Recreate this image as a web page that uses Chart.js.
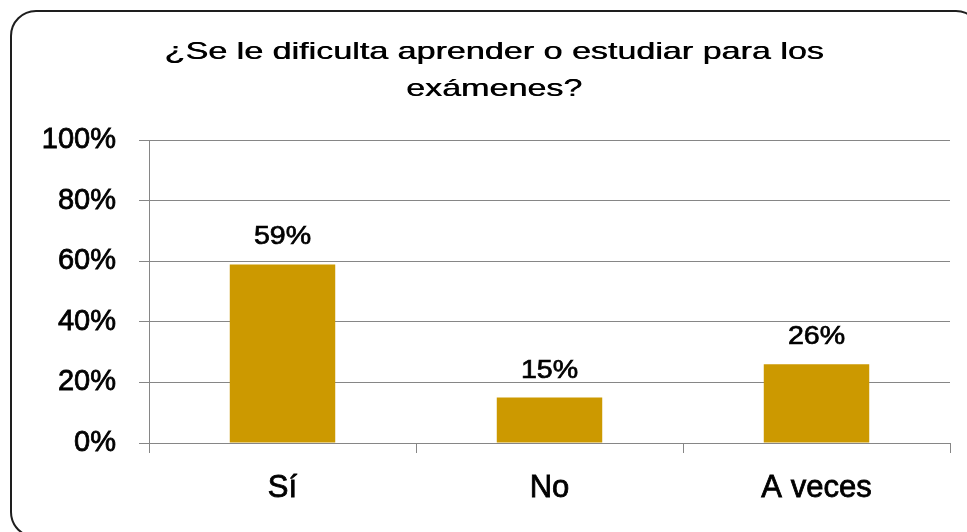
<!DOCTYPE html>
<html><head><meta charset="utf-8">
<script src="https://cdn.jsdelivr.net/npm/chart.js@4"></script>
<style>
html,body{margin:0;padding:0;background:#fff;overflow:hidden}
#wrap{position:relative;width:967px;height:532px;overflow:hidden;background:#fff}
#frame{position:absolute;left:10px;top:10px;width:972px;height:528px;border:2.5px solid #1e1e1e;border-radius:26px;box-sizing:border-box;pointer-events:none}
canvas{position:absolute;left:0;top:0}
</style></head>
<body><div id="wrap"><canvas id="c" width="967" height="532"></canvas><div id="frame"></div></div>
<script>
const titleLines = ['¿Se le dificulta aprender o estudiar para los', 'exámenes?'];
const categories = ['Sí', 'No', 'A veces'];
const values = [59, 15, 26];
const yTicks = [0, 20, 40, 60, 80, 100];

const FONT = '"Liberation Sans", Arial, sans-serif';
const GRID = '#868686';

const stretchTitle = {
  id: 'stretchTitle',
  beforeDraw(chart) {
    const tb = chart.titleBlock;
    if (!tb || tb._wrapped) return;
    const orig = tb.draw;
    tb.draw = function (area) {
      const ctx = this.ctx;
      const cx = (this.left + this.right) / 2;
      ctx.save();
      ctx.translate(cx, 0);
      ctx.scale(1.42, 1);
      ctx.translate(-cx, 0);
      orig.call(this, area);
      ctx.translate(0.5, 0);
      orig.call(this, area);
      ctx.restore();
    };
    tb._wrapped = true;
  }
};

const dataLabels = {
  id: 'dataLabels',
  afterDatasetsDraw(chart) {
    const ctx = chart.ctx;
    const meta = chart.getDatasetMeta(0);
    meta.data.forEach((bar, i) => {
      ctx.save();
      ctx.translate(bar.x, bar.y - 20);
      ctx.scale(1.1, 1);
      ctx.font = '26px ' + FONT;
      ctx.fillStyle = '#000';
      ctx.strokeStyle = '#000';
      ctx.lineWidth = 0.7;
      ctx.textAlign = 'center';
      ctx.textBaseline = 'alphabetic';
      const t = values[i] + '%';
      ctx.fillText(t, 0, 0);
      ctx.strokeText(t, 0, 0);
      ctx.restore();
    });
  }
};

new Chart(document.getElementById('c'), {
  type: 'bar',
  data: {
    labels: categories,
    datasets: [{
      data: values,
      backgroundColor: '#CC9900',
      borderWidth: 0,
      barPercentage: 1,
      categoryPercentage: 0.395
    }]
  },
  options: {
    responsive: false,
    animation: false,
    layout: { padding: { left: 38, right: 17, top: 10, bottom: 29 } },
    plugins: {
      legend: { display: false },
      tooltip: { enabled: false },
      title: {
        display: true,
        text: titleLines,
        color: '#000',
        font: { family: FONT, size: 24, weight: 'normal', lineHeight: 1.53 },
        padding: { top: 24, bottom: 33 }
      }
    },
    scales: {
      x: {
        grid: { offset: true, drawOnChartArea: false, drawTicks: true, tickLength: 10, color: GRID },
        border: { display: true, color: GRID },
        ticks: { color: '#000', font: { family: FONT, size: 31 }, padding: 17, textStrokeColor: '#000', textStrokeWidth: 0.8 },
        afterFit(s) { s.height = 60; }
      },
      y: {
        min: 0, max: 100,
        grid: { color: GRID, tickLength: 10 },
        border: { display: true, color: GRID },
        ticks: { color: '#000', font: { family: FONT, size: 29 }, padding: 23, textStrokeColor: '#000', textStrokeWidth: 0.8, callback: v => v + '%' },
        afterBuildTicks(s) { s.ticks = yTicks.map(v => ({ value: v })); },
        afterFit(s) { s.width = 111; }
      }
    }
  },
  plugins: [stretchTitle, dataLabels]
});
</script>
</body></html>
